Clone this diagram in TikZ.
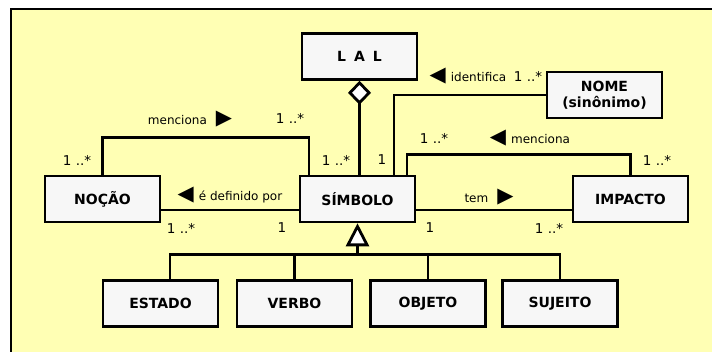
\documentclass[tikz,border=0pt]{standalone}
\usepackage{fontspec}
\setmainfont{DejaVu Sans}
\usepackage{xcolor}
\usetikzlibrary{arrows.meta,positioning,calc}
\definecolor{paperY}{HTML}{FFFFB4}
\definecolor{boxgrey}{HTML}{F7F7F7}
\newcommand{\tril}{{\fontsize{21}{21}\selectfont ◀}}
\newcommand{\trir}{{\fontsize{21}{21}\selectfont ▶}}

\begin{document}
\begin{tikzpicture}[
  x=1pt, y=-1pt,
  cls/.style={draw, line width=2.6pt, fill=boxgrey, minimum width=115pt,
              minimum height=46pt, inner sep=1pt, align=center,
              font=\fontsize{14}{16}\selectfont\bfseries},
  link/.style={line width=2.8pt},
  agg/.style={link, {Diamond[fill=white, length=24pt, width=23pt]}-},
  gen/.style={link, -{Triangle[fill=white, length=23pt, width=23pt]}},
  role/.style={font=\fontsize{12}{14}\selectfont, inner sep=0pt},
  mult/.style={font=\fontsize{13.5}{14}\selectfont, inner sep=0pt},
]
\useasboundingbox (0,0) rectangle (712,352);
\clip (0,0) rectangle (712,352);

% --- the yellow sheet, its right and bottom edges run off the page
\draw[line width=2pt, fill=paperY] (11,9) rectangle (730,370);

% --- classes
\node[cls] (lal)     at (359.5,56.5) {L\hspace{8pt}A\hspace{8pt}L};
\node[cls] (nome)    at (604.5,95)   {NOME\\(sinônimo)};
\node[cls] (nocao)   at (102.5,199)  {NOÇÃO};
\node[cls] (simbolo) at (357.5,199)  {SÍMBOLO};
\node[cls] (impacto) at (630.5,199)  {IMPACTO};

\node[cls] (estado)  at (160.5,303.5) {ESTADO};
\node[cls] (verbo)   at (294.5,303.5) {VERBO};
\node[cls] (objeto)  at (428,303.5)   {OBJETO};
\node[cls] (sujeito) at (560,303.5)   {SUJEITO};

% --- LAL is made of symbols
\draw[agg] (lal.south) -- (lal.south |- simbolo.north);

% --- associations round SIMBOLO
\draw[link] (nocao.north) -- ++(0,-37.5) -| ([xshift=-48.5pt]simbolo.north);
\draw[link] ([yshift=-11pt]nocao.east) -- ([yshift=-11pt]simbolo.west);
\draw[link] (nome.west) -| ([xshift=36.5pt]simbolo.north);
\draw[link] ([xshift=49.5pt]simbolo.north) -- ++(0,-20) -| (impacto.north);
\draw[link] ([yshift=-11pt]simbolo.east) -- ([yshift=-11pt]impacto.west);

% --- the four kinds of symbol
\coordinate (gj) at ([yshift=-31pt]simbolo.south);
\draw[gen] (gj) -- (simbolo.south);
\draw[link] ([xshift=9.5pt]estado.north) |- (gj);
\draw[link] (verbo.north) |- (gj);
\draw[link] (objeto.north) |- (gj);
\draw[link] (sujeito.north) |- (gj);

% --- role names
\node[role] (rMenA) at (190,119) {menciona\hspace{9pt}\trir};
\node[role] (rDef)  at (230,195) {\tril\hspace{5pt}é definido por};
\node[role] (rIdt)  at (468,76)  {\tril\hspace{5pt}identifica};
\node[role] (rMenB) at (530,138) {\tril\hspace{5pt}menciona};
\node[role] (rTem)  at (489,197) {tem\hspace{9pt}\trir};

% --- multiplicities
\node[mult] (m1)  at (77,160)  {1 ..*};
\node[mult] (m2)  at (290,118) {1 ..*};
\node[mult] (m3)  at (336,160) {1 ..*};
\node[mult] (m4)  at (181,228) {1 ..*};
\node[mult] (m5)  at (282,228) {1};
\node[mult] (m6)  at (528,76)  {1 ..*};
\node[mult] (m7)  at (382,160) {1};
\node[mult] (m8)  at (434,138) {1 ..*};
\node[mult] (m9)  at (657,160) {1 ..*};
\node[mult] (m10) at (430,228) {1};
\node[mult] (m11) at (549,228) {1 ..*};
\end{tikzpicture}
\end{document}
